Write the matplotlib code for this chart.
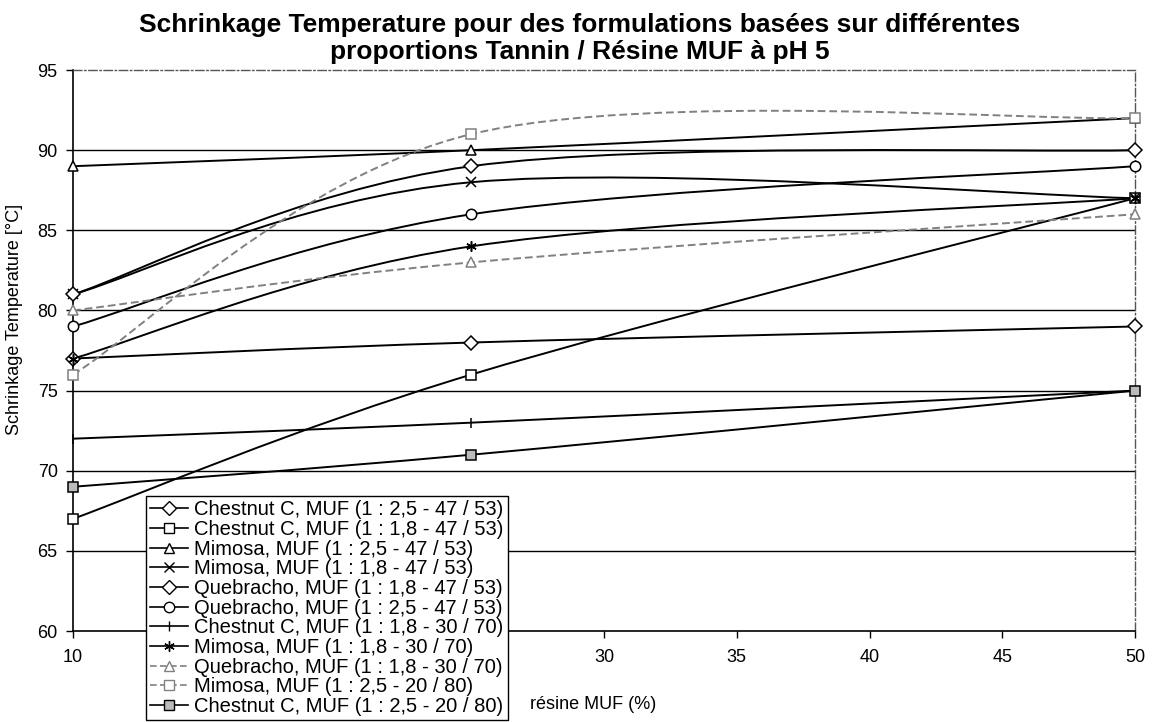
import matplotlib.pyplot as plt
import numpy as np
from matplotlib.path import Path
from matplotlib.patches import PathPatch
from matplotlib.lines import Line2D

plt.rcParams['font.family'] = ['Liberation Sans', 'DejaVu Sans']

# data
resine = [10, 25, 50]  # resine MUF (%)

labels = [
    'Chestnut C, MUF (1 : 2,5 - 47 / 53)',
    'Chestnut C, MUF (1 : 1,8 - 47 / 53)',
    'Mimosa, MUF (1 : 2,5 - 47 / 53)',
    'Mimosa, MUF (1 : 1,8 - 47 / 53)',
    'Quebracho, MUF (1 : 1,8 - 47 / 53)',
    'Quebracho, MUF (1 : 2,5 - 47 / 53)',
    'Chestnut C, MUF (1 : 1,8 - 30 / 70)',
    'Mimosa, MUF (1 : 1,8 - 30 / 70)',
    'Quebracho, MUF (1 : 1,8 - 30 / 70)',
    'Mimosa, MUF (1 : 2,5 - 20 / 80)',
    'Chestnut C, MUF (1 : 2,5 - 20 / 80)',
]

chestnut_25_47 = [77, 78, 79]
chestnut_18_47 = [67, 76, 87]
mimosa_25_47 = [89, 90, 92]
mimosa_18_47 = [81, 88, 87]
quebracho_18_47 = [81, 89, 90]
quebracho_25_47 = [79, 86, 89]
chestnut_18_30 = [72, 73, 75]
mimosa_18_30 = [77, 84, 87]
quebracho_18_30 = [80, 83, 86]
mimosa_25_20 = [76, 91, 92]
chestnut_25_20 = [69, 71, 75]

series = [chestnut_25_47, chestnut_18_47, mimosa_25_47, mimosa_18_47,
          quebracho_18_47, quebracho_25_47, chestnut_18_30, mimosa_18_30,
          quebracho_18_30, mimosa_25_20, chestnut_25_20]

x_ticks = [10, 15, 20, 25, 30, 35, 40, 45, 50]
x_hidden = [15, 20, 25]  # tick labels hidden behind the legend
y_ticks = [60, 65, 70, 75, 80, 85, 90, 95]

# style per series: marker, marker face, line colour, line style
asterisk = (6, 2, 0)
styles = [
    ('D', 'white', 'black', '-'),
    ('s', 'white', 'black', '-'),
    ('^', 'white', 'black', '-'),
    ('x', 'black', 'black', '-'),
    ('D', 'white', 'black', '-'),
    ('o', 'white', 'black', '-'),
    ('|', 'black', 'black', '-'),
    (asterisk, 'black', 'black', '-'),
    ('^', 'white', '#808080', (0, (4, 2))),
    ('s', 'white', '#808080', (0, (4, 2))),
    ('s', '#bbbbbb', 'black', '-'),
]


def smooth_path(xs, ys, k=1/6):
    # Excel style smoothed line: cubic bezier through the points
    pts = np.column_stack([xs, ys]).astype(float)
    n = len(pts)
    verts = [pts[0]]
    codes = [Path.MOVETO]
    for i in range(n - 1):
        p_prev = pts[i - 1] if i > 0 else pts[i]
        p_next2 = pts[i + 2] if i + 2 < n else pts[i + 1]
        c1 = pts[i] + (pts[i + 1] - p_prev) * k
        c2 = pts[i + 1] - (p_next2 - pts[i]) * k
        verts += [c1, c2, pts[i + 1]]
        codes += [Path.CURVE4] * 3
    return Path(verts, codes)


fig = plt.figure(figsize=(11.61, 7.22), dpi=100)
ax = fig.add_axes([0.0629, 0.126, 0.9147, 0.777])

# horizontal grid lines
for yv in y_ticks[1:-1]:
    ax.axhline(yv, color='black', lw=1.0, zorder=1)

handles = []
for vals, lab, (mk, mfc, col, ls) in zip(series, labels, styles):
    patch = PathPatch(smooth_path(resine, vals), fill=False, edgecolor=col,
                      lw=1.4, linestyle=ls, zorder=2)
    ax.add_patch(patch)
    ax.plot(resine, vals, linestyle='none', marker=mk, markersize=7.5,
            markerfacecolor=mfc, markeredgecolor=col, markeredgewidth=1.1,
            zorder=3, clip_on=False)
    handles.append(Line2D([], [], color=col, lw=1.2, linestyle=ls, marker=mk,
                          markersize=7.5, markerfacecolor=mfc,
                          markeredgecolor=col, markeredgewidth=1.0))

ax.set_xlim(10, 50)
ax.set_ylim(60, 95)
ax.set_xticks(x_ticks)
ax.set_xticklabels(['' if v in x_hidden else str(v) for v in x_ticks])
ax.set_yticks(y_ticks)
ax.tick_params(axis='both', labelsize=13, direction='out', length=5, width=1,
               color='black')
ax.tick_params(axis='y', pad=6)
ax.tick_params(axis='x', pad=8)

for side in ['left', 'bottom']:
    ax.spines[side].set_color('black')
    ax.spines[side].set_linewidth(1.2)
for side in ['top', 'right']:
    ax.spines[side].set_color('#555555')
    ax.spines[side].set_linewidth(1.0)
    ax.spines[side].set_linestyle((0, (6, 2, 1, 2)))

ax.set_ylabel('Schrinkage Temperature [°C]', fontsize=13)
ax.yaxis.set_label_coords(-0.047, 0.555)
ax.set_xlabel('résine MUF (%)', fontsize=13)
ax.xaxis.set_label_coords(0.43, -0.115)
ax.xaxis.label.set_horizontalalignment('left')

fig.suptitle('Schrinkage Temperature pour des formulations basées sur différentes\n'
             'proportions Tannin / Résine MUF à pH 5',
             x=0.499, y=0.982, fontsize=19, fontweight='bold', linespacing=1.15)

leg = ax.legend(handles, labels, loc='upper left',
                bbox_to_anchor=(0.1257, 0.3125), bbox_transform=fig.transFigure,
                fontsize=14.5, frameon=True, fancybox=False, framealpha=1,
                edgecolor='black', borderaxespad=0, borderpad=0.2,
                labelspacing=0.033, handlelength=1.9, handletextpad=0.3)
leg.get_frame().set_linewidth(1.0)
leg.set_zorder(10)

fig.savefig('out.png', dpi=100)
